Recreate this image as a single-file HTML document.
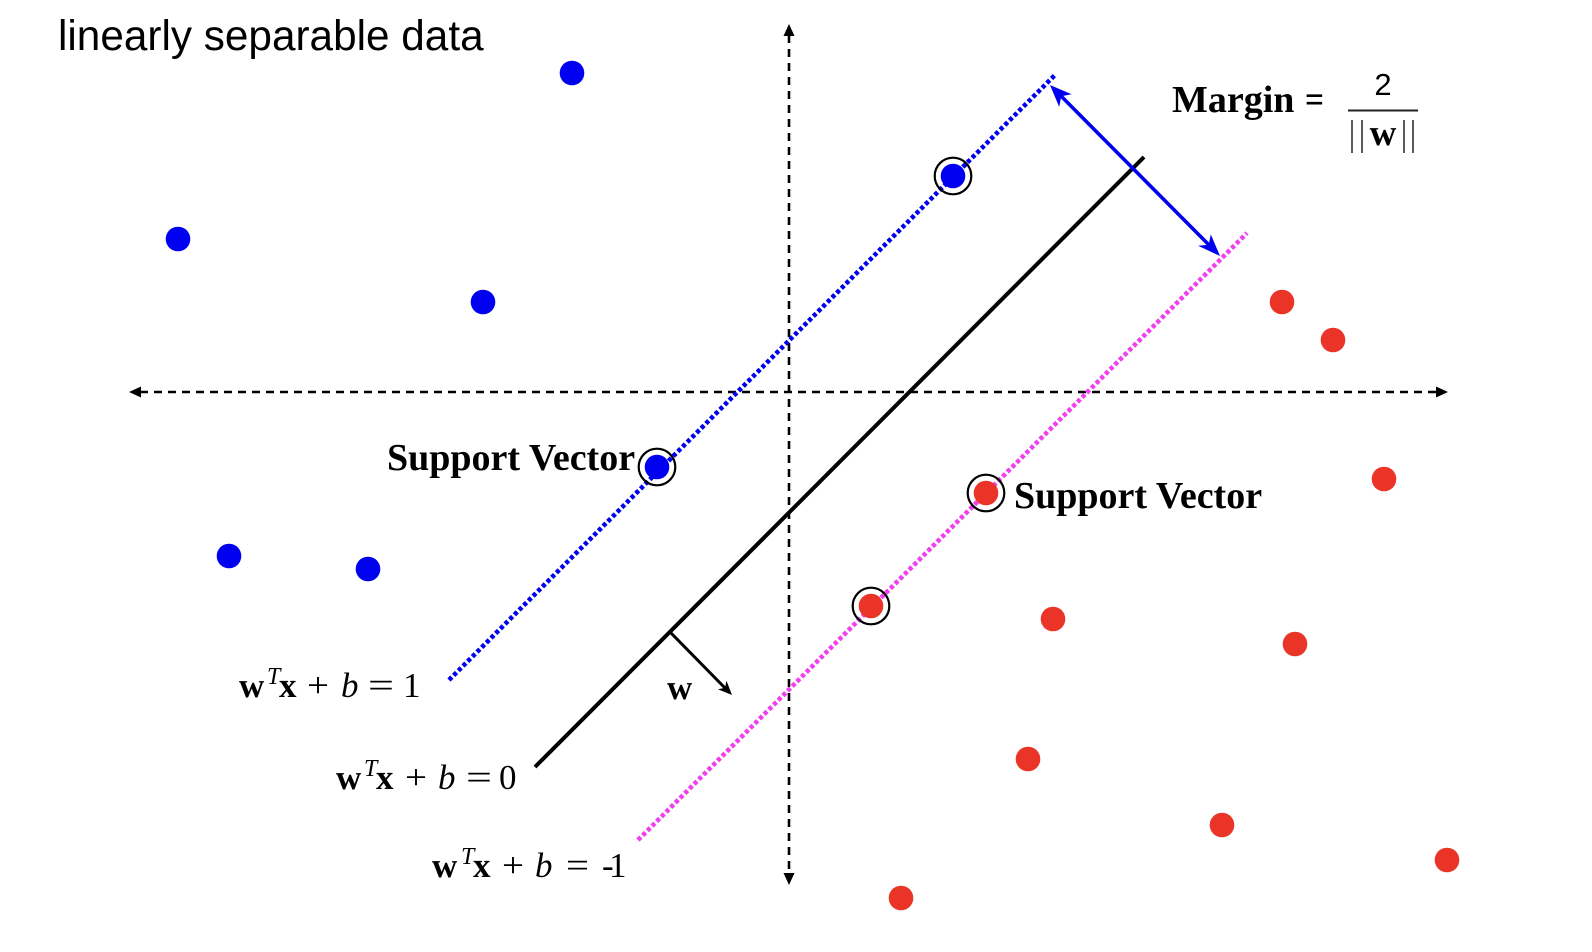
<!DOCTYPE html>
<html>
<head>
<meta charset="utf-8">
<style>
  html, body { margin:0; padding:0; background:#ffffff; }
  svg { display:block; }
  .serif { font-family: "Liberation Serif", "DejaVu Serif", serif; }
  .sans { font-family: "Liberation Sans", "DejaVu Sans", sans-serif; }
</style>
</head>
<body>
<svg width="1592" height="952" viewBox="0 0 1592 952" xmlns="http://www.w3.org/2000/svg">
  <rect x="0" y="0" width="1592" height="952" fill="#ffffff"/>

  <!-- Title -->
  <text x="58" y="50" class="sans" font-size="42.3" fill="#000">linearly separable data</text>

  <!-- Axes -->
  <line x1="140" y1="392" x2="1437" y2="392" stroke="#000" stroke-width="2.6" stroke-dasharray="8 6"/>
  <polygon points="129,392 141,386.5 141,397.5" fill="#000"/>
  <polygon points="1448,392 1436,386.5 1436,397.5" fill="#000"/>
  <line x1="789" y1="35" x2="789" y2="874" stroke="#000" stroke-width="2.6" stroke-dasharray="8 6"/>
  <polygon points="789,24 783.5,36 794.5,36" fill="#000"/>
  <polygon points="789,885 783.5,873 794.5,873" fill="#000"/>

  <!-- Margin lines -->
  <line x1="449" y1="680" x2="1056" y2="74" stroke="#0000f0" stroke-width="4.6" stroke-dasharray="4 2.6"/>
  <line x1="638" y1="840" x2="1247" y2="233" stroke="#f03ef0" stroke-width="4.6" stroke-dasharray="4 2.6"/>
  <!-- Decision boundary -->
  <line x1="535" y1="767" x2="1144" y2="157" stroke="#000" stroke-width="4"/>

  <!-- Margin double arrow -->
  <line x1="1060" y1="95" x2="1210" y2="246" stroke="#0000f0" stroke-width="3.6"/>
  <polygon points="1220,256 1210.8,234.4 1208.7,244.7 1198.1,245.8" fill="#0000f0"/>
  <polygon points="1050,85 1071.6,94.2 1061.3,96.3 1059.2,106.9" fill="#0000f0"/>

  <!-- w arrow -->
  <line x1="670" y1="632" x2="725" y2="688" stroke="#000" stroke-width="3"/>
  <polygon points="732,695 726.5,680.8 725,687.9 717.9,689.2" fill="#000"/>
  <text x="667" y="699" class="serif" font-size="35" font-weight="bold" fill="#000">w</text>

  <!-- Blue points -->
  <g fill="#0000f0">
    <circle cx="572" cy="73" r="12.3"/>
    <circle cx="178" cy="239" r="12.3"/>
    <circle cx="483" cy="302" r="12.3"/>
    <circle cx="229" cy="556" r="12.3"/>
    <circle cx="368" cy="569" r="12.3"/>
    <circle cx="953" cy="176" r="12.3"/>
    <circle cx="657" cy="467" r="12.3"/>
  </g>
  <!-- Red points -->
  <g fill="#ea3428">
    <circle cx="1282" cy="302" r="12.3"/>
    <circle cx="1333" cy="340" r="12.3"/>
    <circle cx="1384" cy="479" r="12.3"/>
    <circle cx="1053" cy="619" r="12.3"/>
    <circle cx="1295" cy="644" r="12.3"/>
    <circle cx="1028" cy="759" r="12.3"/>
    <circle cx="1222" cy="825" r="12.3"/>
    <circle cx="1447" cy="860" r="12.3"/>
    <circle cx="901" cy="898" r="12.3"/>
    <circle cx="986" cy="493" r="12.3"/>
    <circle cx="871" cy="606" r="12.3"/>
  </g>
  <!-- Support vector rings -->
  <g fill="none" stroke="#000" stroke-width="2.2">
    <circle cx="953" cy="176" r="18.3"/>
    <circle cx="657" cy="467" r="18.3"/>
    <circle cx="986" cy="493" r="18.3"/>
    <circle cx="871" cy="606" r="18.3"/>
  </g>

  <!-- Support Vector labels -->
  <text x="387" y="470" class="serif" font-size="38" font-weight="bold" fill="#000">Support Vector</text>
  <text x="1014" y="508" class="serif" font-size="38" font-weight="bold" fill="#000">Support Vector</text>

  <!-- Margin formula -->
  <text x="1172" y="112" class="serif" font-size="38" font-weight="bold" fill="#000">Margin</text>
  <text x="1305" y="112" class="serif" font-size="38" font-weight="bold" fill="#000" textLength="19" lengthAdjust="spacingAndGlyphs">=</text>
  <text x="1383" y="95" class="sans" font-size="31" text-anchor="middle" fill="#000">2</text>
  <line x1="1348" y1="110.5" x2="1418" y2="110.5" stroke="#222" stroke-width="2"/>
  <g stroke="#333" stroke-width="1.6">
    <line x1="1352" y1="120" x2="1352" y2="153"/>
    <line x1="1362" y1="120" x2="1362" y2="153"/>
    <line x1="1404" y1="120" x2="1404" y2="153"/>
    <line x1="1413" y1="120" x2="1413" y2="153"/>
  </g>
  <text x="1383" y="145" class="serif" font-size="37" font-weight="bold" text-anchor="middle" fill="#000">w</text>

  <!-- Equation labels -->
  <g class="serif" fill="#000">
    <!-- w^T x + b = 1 -->
    <text x="239" y="697" font-size="35" font-weight="bold">w</text>
    <text x="267" y="684" font-size="24" font-style="italic">T</text>
    <text x="279" y="697" font-size="35" font-weight="bold">x</text>
    <text x="307" y="697" font-size="35" textLength="22" lengthAdjust="spacingAndGlyphs">+</text>
    <text x="341" y="697" font-size="35" font-style="italic">b</text>
    <text x="368" y="697" font-size="35" textLength="26" lengthAdjust="spacingAndGlyphs">=</text>
    <text x="403" y="697" font-size="35">1</text>

    <!-- w^T x + b = 0 -->
    <text x="336" y="789" font-size="35" font-weight="bold">w</text>
    <text x="364" y="776" font-size="24" font-style="italic">T</text>
    <text x="376" y="789" font-size="35" font-weight="bold">x</text>
    <text x="405" y="789" font-size="35" textLength="22" lengthAdjust="spacingAndGlyphs">+</text>
    <text x="438" y="789" font-size="35" font-style="italic">b</text>
    <text x="466" y="789" font-size="35" textLength="26" lengthAdjust="spacingAndGlyphs">=</text>
    <text x="499" y="789" font-size="35">0</text>

    <!-- w^T x + b = -1 -->
    <text x="432" y="877" font-size="35" font-weight="bold">w</text>
    <text x="461" y="864" font-size="24" font-style="italic">T</text>
    <text x="473" y="877" font-size="35" font-weight="bold">x</text>
    <text x="502" y="877" font-size="35" textLength="22" lengthAdjust="spacingAndGlyphs">+</text>
    <text x="535" y="877" font-size="35" font-style="italic">b</text>
    <text x="566" y="877" font-size="35" textLength="23" lengthAdjust="spacingAndGlyphs">=</text>
    <text x="602" y="877" font-size="35">-</text>
    <text x="609" y="877" font-size="35">1</text>
  </g>
</svg>
</body>
</html>
